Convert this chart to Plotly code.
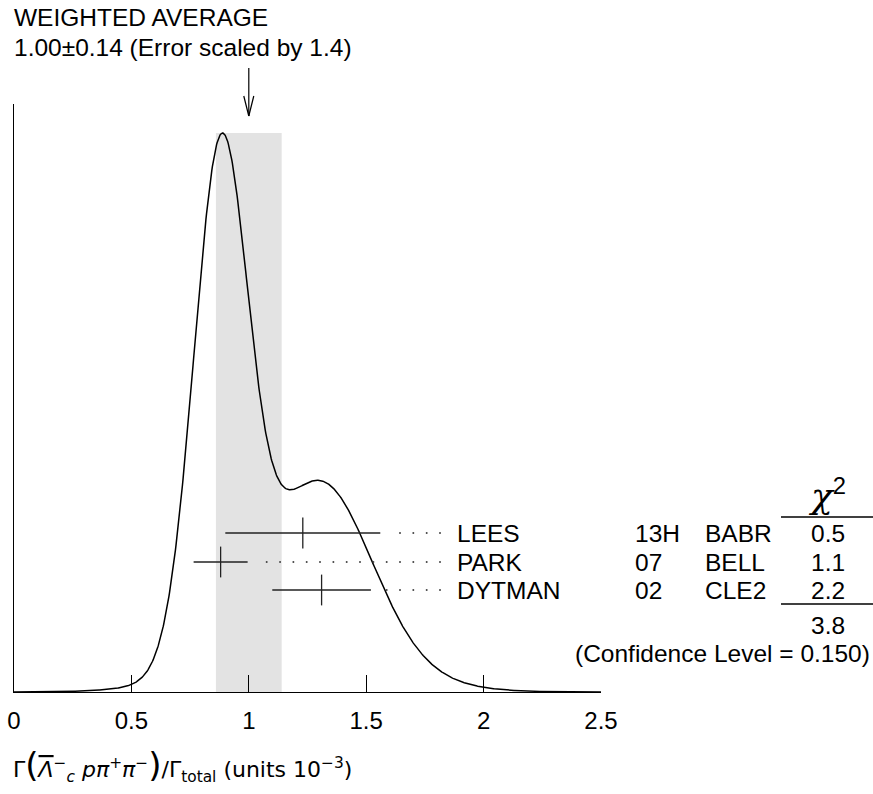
import numpy as np
import plotly.graph_objects as go

# ---------------- data ----------------
names = ["LEES", "PARK", "DYTMAN"]
years = ["13H", "07", "02"]
expts = ["BABR", "BELL", "CLE2"]
values = [1.23, 0.88, 1.31]
errors = [0.33, 0.115, 0.21]
chi2_vals = ["0.5", "1.1", "2.2"]
chi2_total = "3.8"
conf_level = "0.150"
avg_value = 1.00
avg_error = 0.14
error_scale = 1.4
x_ticks = [0, 0.5, 1, 1.5, 2, 2.5]
x_tick_labels = ["0", "0.5", "1", "1.5", "2", "2.5"]

# ---------------- layout constants ----------------
W, H = 873, 794
ML, MR, MT, MB = 14, 272, 104, 102
PW = W - ML - MR
PH = H - MT - MB
XMAX = 2.5
FONT = "Liberation Sans, Arial, sans-serif"
FS = 24.5
TXT = dict(family=FONT, size=FS, color="black")


def py(pix):  # pixel row -> paper y
    return (H - MB - pix) / PH


def px(pix):  # pixel column -> paper x
    return (pix - ML) / PW


px_per_unit = PW / XMAX

# ideogram: sum of gaussians, area proportional to 1/sigma
xs = np.linspace(0, XMAX, 1001)
ideo = np.zeros_like(xs)
for v, e in zip(values, errors):
    ideo += (1.0 / e**2) * np.exp(-0.5 * ((xs - v) / e) ** 2)
ideo = ideo / ideo.max()
peak_frac = (H - MB - 133) / PH
ymax = 1.0 / peak_frac

fig = go.Figure()

fig.add_trace(go.Scatter(x=xs, y=ideo, mode="lines",
                         line=dict(color="black", width=1.5),
                         hoverinfo="skip", showlegend=False))

row_y = [py(533), py(562), py(590)]

# error bars on a paper-like secondary axis
fig.add_trace(go.Scatter(
    x=values, y=row_y, yaxis="y2", mode="markers",
    marker=dict(symbol="line-ns", size=22, line=dict(color="#222", width=1.3)),
    error_x=dict(type="data", array=errors, symmetric=True, width=0,
                 color="#222", thickness=1.3),
    hoverinfo="skip", showlegend=False))

# dotted leaders
dot_end = (440 - ML) / px_per_unit
dot_step = 13.33 / px_per_unit
min_gap = 15 / px_per_unit
dx, dy = [], []
for v, e, yy in zip(values, errors, row_y):
    start = v + e + min_gap
    k = 0
    while dot_end - k * dot_step >= start:
        dx.append(dot_end - k * dot_step)
        dy.append(yy)
        k += 1
fig.add_trace(go.Scatter(x=dx, y=dy, yaxis="y2", mode="markers",
                         marker=dict(size=2, color="#444"),
                         hoverinfo="skip", showlegend=False))

ann = []
name_x = (455 - ML) / px_per_unit
for n, yr, ex, c, yy in zip(names, years, expts, chi2_vals, row_y):
    ann.append(dict(x=name_x, y=yy, xref="x", yref="paper", text=n, font=TXT,
                    xanchor="left", yanchor="middle", showarrow=False))
    ann.append(dict(x=px(633), y=yy, xref="paper", yref="paper", text=yr, font=TXT,
                    xanchor="left", yanchor="middle", showarrow=False))
    ann.append(dict(x=px(703), y=yy, xref="paper", yref="paper", text=ex, font=TXT,
                    xanchor="left", yanchor="middle", showarrow=False))
    ann.append(dict(x=px(828), y=yy, xref="paper", yref="paper", text=c, font=TXT,
                    xanchor="center", yanchor="middle", showarrow=False))

ann.append(dict(x=px(827), y=py(518), xref="paper", yref="paper",
                text="<i>χ</i><span style='font-family:Liberation Sans;font-size:34px'><sup>2</sup></span>",
                font=dict(family="DejaVu Serif, serif", size=36, color="black"),
                xanchor="center", yanchor="bottom", showarrow=False))
ann.append(dict(x=px(828), y=py(625), xref="paper", yref="paper", font=TXT,
                text=chi2_total, xanchor="center", yanchor="middle", showarrow=False))
ann.append(dict(x=px(872), y=py(653), xref="paper", yref="paper", font=TXT,
                text=f"(Confidence Level = {conf_level})",
                xanchor="right", yanchor="middle", showarrow=False))
ann.append(dict(x=px(12), y=py(18), xref="paper", yref="paper", font=TXT,
                text="WEIGHTED AVERAGE", xanchor="left", yanchor="middle",
                showarrow=False))
ann.append(dict(x=px(12), y=py(47), xref="paper", yref="paper", font=TXT,
                text=f"{avg_value:.2f}±{avg_error:.2f} (Error scaled by {error_scale})",
                xanchor="left", yanchor="middle", showarrow=False))
ann.append(dict(x=px(11), y=py(765), xref="paper", yref="paper",
                text="Γ<span style='font-size:34px'>(</span>"
                     "<span style='text-decoration:overline'><i>Λ</i></span>"
                     "<sup>−</sup><sub><i>c</i></sub> "
                     "<i>p</i><i>π</i><sup>+</sup><i>π</i><sup>−</sup>"
                     "<span style='font-size:34px'>)</span>/Γ<sub>total</sub> "
                     "(units 10<sup>−3</sup>)",
                font=dict(family="DejaVu Sans, sans-serif", size=22, color="black"),
                xanchor="left", yanchor="middle", showarrow=False))

shapes = [dict(type="rect", xref="x", yref="y",
               x0=avg_value - avg_error, x1=avg_value + avg_error,
               y0=0, y1=1.0, fillcolor="#e3e3e3", line=dict(width=0), layer="below")]
for y_line in (517, 604):
    shapes.append(dict(type="line", xref="paper", yref="paper", layer="above",
                       x0=px(781), x1=px(873), y0=py(y_line), y1=py(y_line),
                       line=dict(color="black", width=1.3)))
# arrow to the weighted average
arm = 5 / px_per_unit
shapes.append(dict(type="line", xref="x", yref="paper", x0=avg_value, x1=avg_value,
                   y0=py(68), y1=py(116), line=dict(color="black", width=1.2)))
shapes.append(dict(type="line", xref="x", yref="paper", x0=avg_value - arm, x1=avg_value,
                   y0=py(96), y1=py(116), line=dict(color="black", width=1.2)))
shapes.append(dict(type="line", xref="x", yref="paper", x0=avg_value + arm, x1=avg_value,
                   y0=py(96), y1=py(116), line=dict(color="black", width=1.2)))

fig.update_layout(
    width=W, height=H,
    margin=dict(l=ML, r=MR, t=MT, b=MB, pad=0, autoexpand=False),
    paper_bgcolor="white", plot_bgcolor="white",
    font=dict(family=FONT, size=FS, color="black"),
    showlegend=False,
    xaxis=dict(range=[0, XMAX], tickvals=x_ticks, ticktext=x_tick_labels,
               ticks="inside", ticklen=17, tickwidth=1, tickcolor="black",
               showline=True, linecolor="black", linewidth=1,
               showgrid=False, zeroline=False, automargin=False,
               ticklabelstandoff=7,
               tickfont=dict(family=FONT, size=24, color="black")),
    yaxis=dict(range=[0, ymax], showline=True, linecolor="black", linewidth=1,
               showticklabels=False, ticks="", showgrid=False, zeroline=False,
               automargin=False),
    yaxis2=dict(range=[0, 1], overlaying="y", visible=False),
    annotations=ann,
    shapes=shapes,
)

fig.write_html("out.html", config={"displayModeBar": False},
               post_script="document.body.style.margin='0';document.body.style.overflow='hidden';")
